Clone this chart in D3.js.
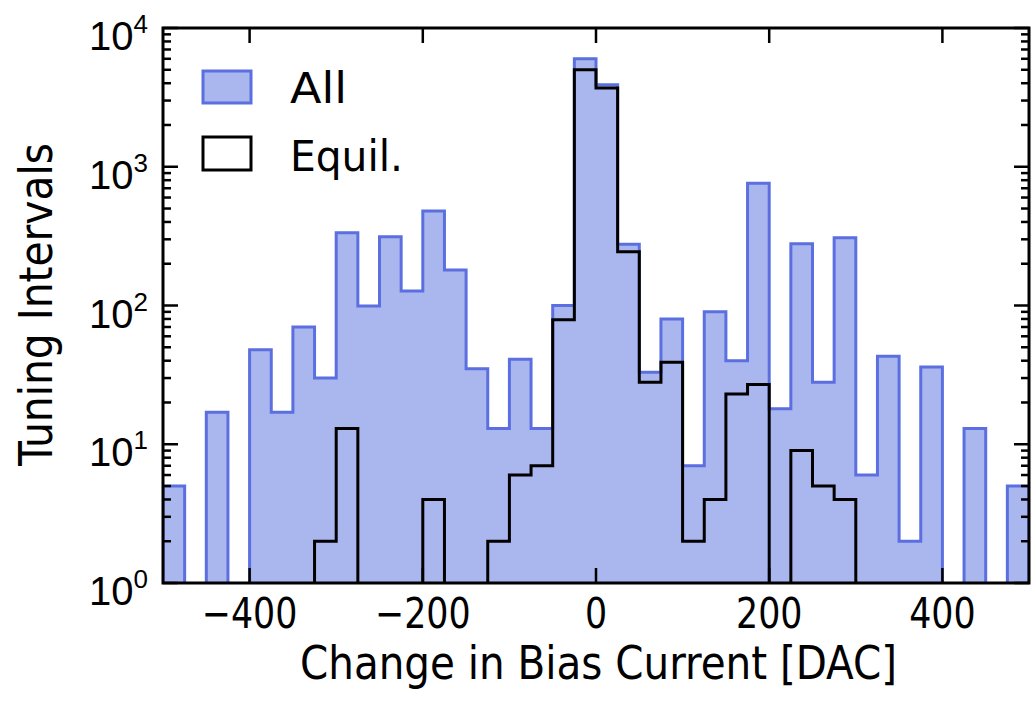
<!DOCTYPE html>
<html>
<head>
<meta charset="utf-8">
<script src="https://cdn.jsdelivr.net/npm/d3@7"></script>
<style>
  body { margin: 0; background: #fff; }
  text { font-family: "Liberation Sans Narrow", "DejaVu Sans Condensed", "Liberation Sans", sans-serif; fill: #000; }
  .ylab { font-family: "Liberation Sans", Arial, sans-serif; }
</style>
</head>
<body>
<svg id="chart" width="1031" height="709"></svg>
<script>
// Histogram of bias-current changes, 25 DAC bins from -500 to 500
const binEdges = d3.range(-500, 501, 25);
const allCounts = [5, 0, 17, 0, 48, 17, 70, 30, 335, 99, 313, 127, 480, 180, 35, 13, 41, 13, 100, 6000,
                   3900, 276, 33, 80, 7, 90, 40, 760, 18, 279, 28, 308, 6, 43, 2, 36, 0, 13, 0, 5];
const equilCounts = [0, 0, 0, 0, 0, 0, 0, 2, 13, 0, 0, 0, 4, 0, 0, 2, 6, 7, 79, 5000,
                     3700, 244, 28, 39, 2, 4, 23, 27, 0, 9, 5, 4, 0, 0, 0, 0, 0, 0, 0, 0];
const xTicks = [-400, -200, 0, 200, 400];
const yDecades = [0, 1, 2, 3, 4];
const seriesNames = ["All", "Equil."];

const W = 1031, H = 709;
const plot = { left: 163, right: 1029, top: 28, bottom: 583 };
const fillBlue = "#aab7ee", strokeBlue = "#5b6fe0";

const svg = d3.select("#chart");
const x = d3.scaleLinear().domain([-500, 500]).range([plot.left, plot.right]);
const y = d3.scaleLog().domain([1, 1e4]).range([plot.bottom, plot.top]);

svg.append("defs").append("clipPath").attr("id", "plotClip")
  .append("rect")
  .attr("x", plot.left).attr("y", plot.top)
  .attr("width", plot.right - plot.left).attr("height", plot.bottom - plot.top);

// Step outline for a histogram; empty bins sit on the baseline
function stepPoints(counts) {
  const yv = c => c > 0 ? y(c) : plot.bottom + 4;
  const pts = [[x(binEdges[0]), plot.bottom + 4]];
  counts.forEach((c, i) => {
    pts.push([x(binEdges[i]), yv(c)]);
    pts.push([x(binEdges[i + 1]), yv(c)]);
  });
  pts.push([x(binEdges[binEdges.length - 1]), plot.bottom + 4]);
  return pts;
}
const line = d3.line();

const g = svg.append("g").attr("clip-path", "url(#plotClip)");
g.append("path")
  .attr("d", line(stepPoints(allCounts)) + "Z")
  .attr("fill", fillBlue)
  .attr("stroke", strokeBlue)
  .attr("stroke-width", 3)
  .attr("stroke-linejoin", "miter");
g.append("path")
  .attr("d", line(stepPoints(equilCounts)))
  .attr("fill", "none")
  .attr("stroke", "#000")
  .attr("stroke-width", 3)
  .attr("stroke-linejoin", "miter");

// Ticks pointing inward on all four sides
const tickG = svg.append("g").attr("stroke", "#000").attr("stroke-width", 2.5);
const majorLen = 15, minorLen = 8;
xTicks.forEach(v => {
  const px = x(v);
  tickG.append("line").attr("x1", px).attr("x2", px).attr("y1", plot.bottom).attr("y2", plot.bottom - majorLen);
  tickG.append("line").attr("x1", px).attr("x2", px).attr("y1", plot.top).attr("y2", plot.top + majorLen);
});
yDecades.forEach(d => {
  const py = y(Math.pow(10, d));
  tickG.append("line").attr("x1", plot.left).attr("x2", plot.left + majorLen).attr("y1", py).attr("y2", py);
  tickG.append("line").attr("x1", plot.right).attr("x2", plot.right - majorLen).attr("y1", py).attr("y2", py);
  if (d < 4) {
    d3.range(2, 10).forEach(m => {
      const pm = y(m * Math.pow(10, d));
      tickG.append("line").attr("x1", plot.left).attr("x2", plot.left + minorLen).attr("y1", pm).attr("y2", pm);
      tickG.append("line").attr("x1", plot.right).attr("x2", plot.right - minorLen).attr("y1", pm).attr("y2", pm);
    });
  }
});

// Frame
svg.append("rect")
  .attr("x", plot.left).attr("y", plot.top)
  .attr("width", plot.right - plot.left).attr("height", plot.bottom - plot.top)
  .attr("fill", "none").attr("stroke", "#000").attr("stroke-width", 3);

// X tick labels (slightly narrowed glyphs)
xTicks.forEach(v => {
  svg.append("text")
    .attr("transform", `translate(${x(v)},628) scale(0.9,1)`)
    .attr("text-anchor", "middle")
    .style("font-size", "43px")
    .text(v < 0 ? "\u2212" + Math.abs(v) : String(v));
});

// Y tick labels as powers of ten
yDecades.forEach(d => {
  const t = svg.append("text")
    .attr("class", "ylab")
    .attr("x", 148).attr("y", y(Math.pow(10, d)) + 22)
    .attr("text-anchor", "end")
    .style("font-size", "40px");
  t.append("tspan").text("10");
  t.append("tspan").attr("dy", -17).style("font-size", "26px").text(String(d));
});

// Axis titles
svg.append("text")
  .attr("x", 300).attr("y", 679)
  .attr("textLength", 597).attr("lengthAdjust", "spacingAndGlyphs")
  .style("font-size", "46px")
  .text("Change in Bias Current [DAC]");
svg.append("text")
  .attr("transform", "translate(52,466) rotate(-90)")
  .attr("x", 0).attr("y", 0)
  .attr("textLength", 323).attr("lengthAdjust", "spacingAndGlyphs")
  .style("font-size", "46px")
  .text("Tuning Intervals");

// Legend
const legend = svg.append("g");
legend.append("rect").attr("x", 203).attr("y", 71).attr("width", 48).attr("height", 32)
  .attr("fill", fillBlue).attr("stroke", strokeBlue).attr("stroke-width", 3);
legend.append("rect").attr("x", 203).attr("y", 137).attr("width", 48).attr("height", 33)
  .attr("fill", "none").attr("stroke", "#000").attr("stroke-width", 3);
legend.append("text").attr("x", 290).attr("y", 103)
  .attr("textLength", 57).attr("lengthAdjust", "spacingAndGlyphs")
  .style("font-size", "42px").text(seriesNames[0]);
legend.append("text").attr("x", 290).attr("y", 171)
  .attr("textLength", 113).attr("lengthAdjust", "spacingAndGlyphs")
  .style("font-size", "42px").text(seriesNames[1]);
</script>
</body>
</html>
